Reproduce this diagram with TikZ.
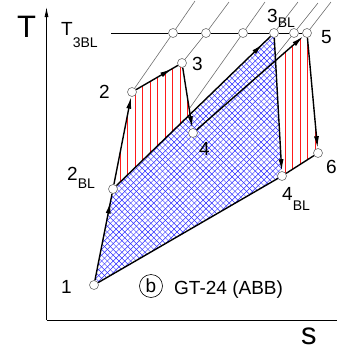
\documentclass[tikz,border=0pt]{standalone}
\usepackage{fontspec}
\setmainfont{Liberation Sans}
\usetikzlibrary{arrows.meta,backgrounds,decorations.markings}
\definecolor{isogray}{HTML}{6E6E6E}
\definecolor{hatchblue}{HTML}{2B2BFF}
\definecolor{hatchred}{HTML}{FF1A1A}
\newcommand{\lowsub}[2][6pt]{\raisebox{-#1}{\fontsize{14}{14}\selectfont #2}}

\begin{document}
\begin{tikzpicture}[
  x=1pt, y=-1pt,
  >={Latex[length=12pt,width=5pt]},
  statept/.style={circle, draw=isogray, fill=white, line width=0.6pt, minimum size=9pt, inner sep=0pt},
  lbl/.style={anchor=base west, inner sep=0pt, font=\fontsize{19}{19}\selectfont},
  axlbl/.style={anchor=base west, inner sep=0pt, text depth=0pt, font=\fontsize{31}{31}\selectfont},
  iso/.style={isogray, line width=0.6pt},
  cyc/.style={black, line width=1.4pt},
  midarr/.style={postaction={decorate}, decoration={markings,
    mark=at position #1 with {\arrow{Latex[length=12pt,width=5pt]}}}},
  hatchb/.style={hatchblue, line width=0.45pt},
  hatchr/.style={hatchred, line width=0.7pt},
]
\useasboundingbox (0,0) rectangle (337,349);

% ---------------- axes
\coordinate (o) at (46.5,320);
\coordinate (ytop) at (46.5,7);
\coordinate (xend) at (347,320);
\draw[line width=0.8pt, -{Latex[length=10pt,width=4pt]}] (o) -- (ytop);
\draw[line width=0.8pt, -{Latex[length=10pt,width=4pt]}] (o) -- (xend);
\node[axlbl] (tlab) at (17,37) {T};
\node[axlbl] (slab) at (301,344) {s};

% ---------------- state points
\node[statept] (p1) at (94,285) {};
\node[statept] (p2BL) at (113,189) {};
\node[statept] (p2) at (132,92) {};
\node[statept] (p3) at (182,63) {};
\node[statept] (p4) at (193,133) {};
\node[statept] (p3BL) at (274,33) {};
\node[statept] (p5) at (307,33) {};
\node[statept] (p6) at (318,153) {};
\node[statept] (p4BL) at (282,176) {};
% points where the isobars cross T_3BL
\node[statept] (c1) at (173,33) {};
\node[statept] (c2) at (206,33) {};
\node[statept] (c3) at (243,33) {};
\node[statept] (c5) at (294,33) {};

\coordinate (q1) at (intersection of p3--p4 and p2BL--p3BL);
\coordinate (q2) at (intersection of p4--p5 and p3BL--p4BL);

% ---------------- isobars
\coordinate (u1) at (195,1);
\coordinate (u2) at (229,2);
\coordinate (u3) at (265,2);
\coordinate (u4) at (298,2);
\coordinate (u5) at (318,3);
\coordinate (u6) at (331,2);
\coordinate (l3) at (intersection of p3--p4 and u3--c3);
\coordinate (l5) at (intersection of p3BL--p4BL and u5--c5);
\draw[iso] (p2) -- (c1) -- (u1);
\draw[iso] (p3) -- (c2) -- (u2);
\draw[iso] (l3) -- (c3) -- (u3);
\draw[iso] (p3BL) -- (u4);
\draw[iso] (l5) -- (c5) -- (u5);
\draw[iso] (p5) -- (u6);

% ---------------- T_3BL level
\coordinate (tl) at (111,33);
\draw[line width=0.8pt] (tl) -- (c1) -- (c2) -- (c3) -- (p3BL) -- (c5) -- (p5);
\node[lbl] (t3lab) at (61,35) {T\lowsub[12pt]{3BL}};

% ---------------- cycle
\draw[cyc, midarr=0.91] (p1) -- (p2BL);
\draw[cyc, ->] (p2BL) -- (p2);
\draw[cyc, midarr=0.86] (p2) -- (p3);
\draw[cyc, ->] (p3) -- (p4);
\draw[cyc, ->] (p4) -- (p5);
\draw[cyc, ->] (p5) -- (p6);
\draw[cyc] (p6) -- (p4BL);
\draw[cyc] (p4BL) -- (p1);
\draw[cyc, midarr=0.95] (p2BL) -- (p3BL);
\draw[cyc, ->] (p3BL) -- (p4BL);

% ---------------- labels
\node[lbl] (lab1) at (61,293) {1};
\node[lbl] (lab2BL) at (67,180) {2\lowsub[8pt]{BL}};
\node[lbl] (lab2) at (99,98) {2};
\node[lbl] (lab3) at (192,70) {3};
\node[lbl] (lab4) at (199,155) {4};
\node[lbl] (lab3BL) at (267,22) {3\lowsub[5pt]{BL}};
\node[lbl] (lab5) at (321,43) {5};
\node[lbl] (lab6) at (326,173) {6};
\node[lbl] (lab4BL) at (282,200) {4\lowsub[10pt]{BL}};
\node[circle, draw, line width=0.6pt, minimum size=23pt, inner sep=0pt,
  font=\fontsize{19}{19}\selectfont] (tagb) at (151,286) {b};
\node[lbl] (caption) at (174,294) {GT-24 (ABB)};

% ---------------- hatching
\begin{scope}[on background layer]
  \begin{scope}
    \clip (p1.center) -- (p2BL.center) -- (p3BL.center) -- (p4BL.center) -- cycle;
    \foreach \c in {-200,-194.2,...,570} {
      \draw[hatchb] (\c,0) -- ++(350,350);
      \draw[hatchb] (\c,0) -- ++(-350,350);
    }
  \end{scope}
  \begin{scope}
    \clip (p2BL.center) -- (p2.center) -- (p3.center) -- (q1) -- cycle;
    \foreach \x in {120,127.5,...,190} \draw[hatchr] (\x,50) -- (\x,200);
  \end{scope}
  \begin{scope}
    \clip (q2) -- (p5.center) -- (p6.center) -- (p4BL.center) -- cycle;
    \foreach \x in {285,292.5,...,320} \draw[hatchr] (\x,20) -- (\x,200);
  \end{scope}
\end{scope}

\end{tikzpicture}
\end{document}
